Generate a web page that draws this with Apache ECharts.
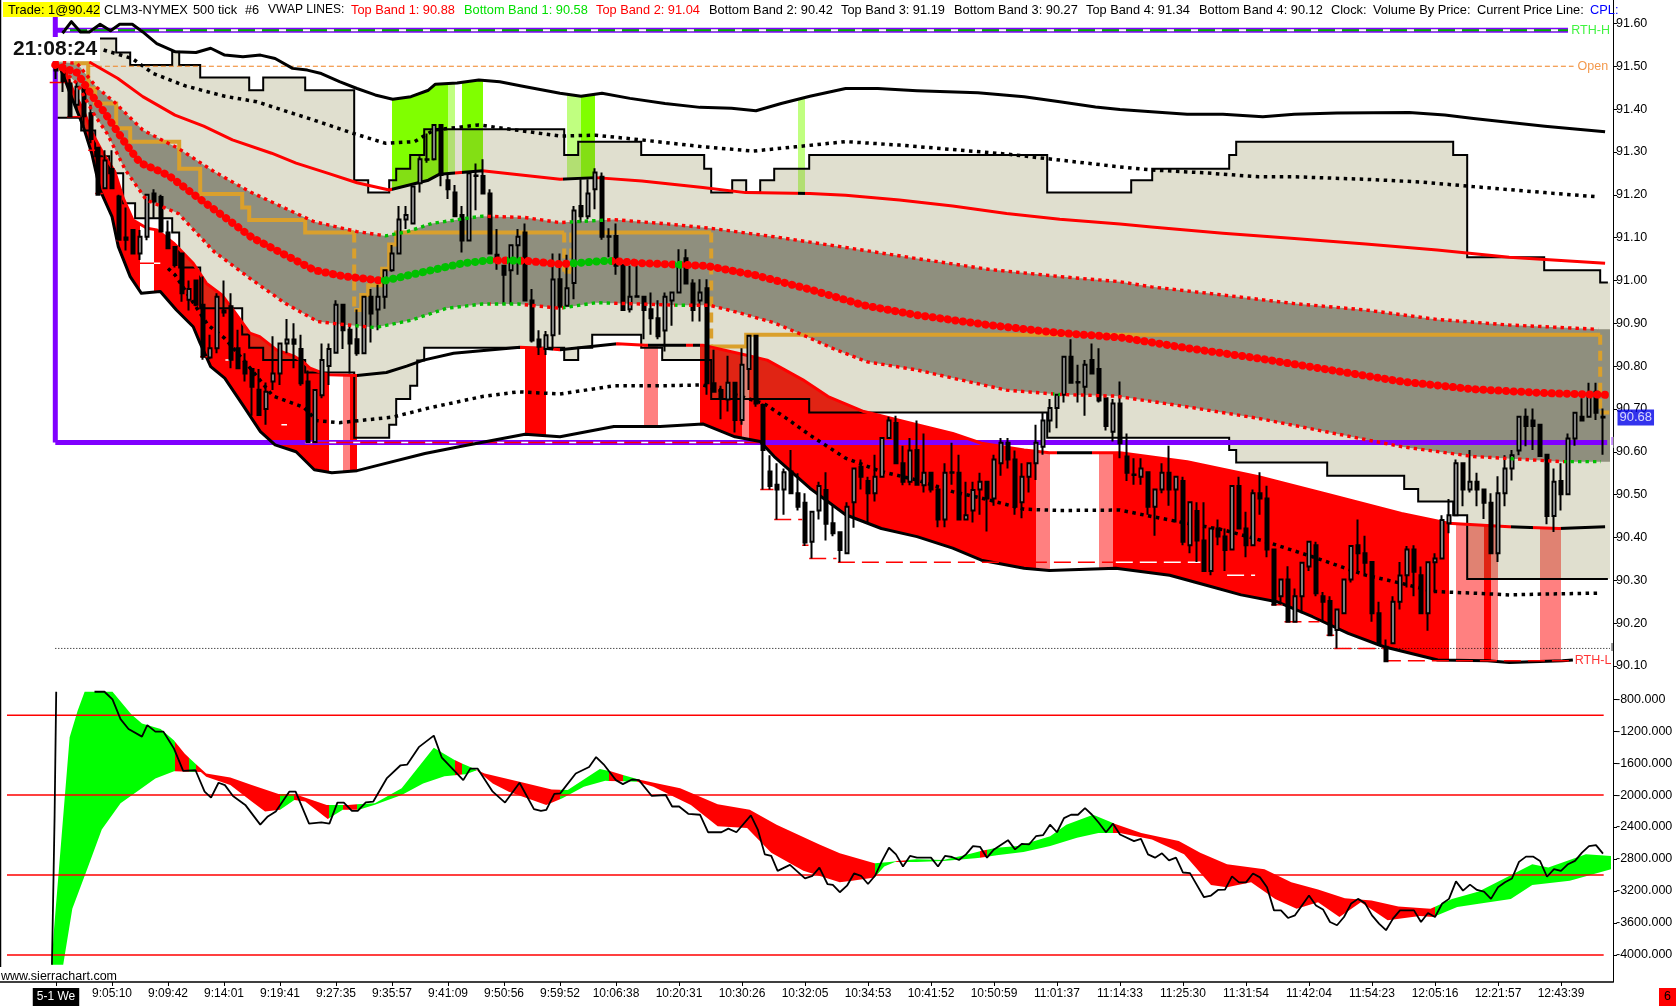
<!DOCTYPE html>
<html><head><meta charset="utf-8">
<style>html,body{margin:0;padding:0;background:#fff}#c{width:1676px;height:1006px}</style>
<script src="https://cdn.jsdelivr.net/npm/echarts@6/dist/echarts.min.js"></script>
</head><body><div id="c"></div>
<script>
// ---------- axis values ----------
const tickBars=[0,8,16,24,32,40,48,56,64,72,80,89,98,107,116,125,134,143,152,161,170,179,188,197,206,215];
const tickLabels=['5-1 We','9:05:10','9:09:42','9:14:01','9:19:41','9:27:35','9:35:57','9:41:09','9:50:56','9:59:52','10:06:38','10:20:31','10:30:26','10:32:05','10:34:53','10:41:52','10:50:59','11:01:37','11:14:33','11:25:30','11:31:54','11:42:04','11:54:23','12:05:16','12:21:57','12:43:39'];
const priceTicks=[90.1,90.2,90.3,90.4,90.5,90.6,90.7,90.8,90.9,91.0,91.1,91.2,91.3,91.4,91.5,91.6];
const deltaTicks=[-800,-1200,-1600,-2000,-2400,-2800,-3200,-3600,-4000];
const deltaLevels=[-1000,-2000,-3000,-4000];
// ---------- candles: one row per bar, [open, close, low, high] ----------
const candles=[
[91.50,91.49,91.47,91.52],[91.49,91.465,91.44,91.50],[91.46,91.383,91.383,91.47],[91.41,91.452,91.40,91.464],[91.45,91.383,91.36,91.46],
[91.39,91.33,91.32,91.41],[91.31,91.20,91.20,91.31],[91.215,91.28,91.215,91.304],[91.26,91.215,91.215,91.304],[91.196,91.095,91.095,91.2],
[91.10,91.095,91.07,91.17],[91.118,91.063,91.063,91.12],[91.063,91.102,91.048,91.118],[91.102,91.2,91.094,91.2],[91.203,91.184,91.145,91.213],
[91.195,91.114,91.114,91.2],[91.112,91.075,91.073,91.14],[91.078,91.036,91.03,91.08],[91.063,90.97,90.95,91.063],[90.955,90.98,90.93,91.0],
[91.0,90.943,90.94,91.0],[90.943,90.822,90.815,91.009],[90.82,90.842,90.816,90.873],[90.842,90.962,90.83,90.97],[90.93,90.925,90.915,91.0],
[90.94,90.815,90.795,90.97],[90.842,90.795,90.795,90.885],[90.81,90.783,90.764,90.83],[90.793,90.752,90.684,90.793],[90.745,90.686,90.684,90.793],
[90.70,90.74,90.663,90.762],[90.764,90.783,90.744,90.87],[90.783,90.853,90.756,90.853],[90.853,90.862,90.83,90.91],[90.862,90.852,90.795,90.90],
[90.84,90.76,90.754,90.873],[90.764,90.623,90.623,90.79],[90.623,90.744,90.623,90.745],[90.732,90.814,90.725,90.853],[90.80,90.84,90.756,90.853],
[90.831,90.943,90.831,90.954],[90.943,90.884,90.84,90.943],[90.885,90.853,90.783,90.896],[90.863,90.83,90.824,90.932],[90.83,90.962,90.83,90.962],
[90.962,90.923,90.855,90.98],[90.932,90.962,90.884,90.99],[90.962,91.024,90.934,91.024],[91.024,91.063,91.02,91.083],[91.063,91.142,91.063,91.174],
[91.142,91.153,91.12,91.174],[91.133,91.219,91.133,91.22],[91.227,91.283,91.205,91.29],[91.282,91.283,91.275,91.343],[91.283,91.363,91.28,91.365],
[91.363,91.246,91.22,91.365],[91.234,91.213,91.19,91.246],[91.205,91.15,91.15,91.223],[91.153,91.093,91.065,91.174],[91.093,91.25,91.093,91.25],
[91.244,91.245,91.164,91.273],[91.244,91.203,91.203,91.283],[91.203,91.063,91.063,91.213],[91.06,91.045,91.025,91.12],[91.034,91.013,90.943,91.034],
[91.024,91.082,90.943,91.082],[91.082,91.102,91.013,91.12],[91.112,90.953,90.953,91.133],[90.953,90.86,90.855,90.98],[90.862,90.845,90.826,90.884],
[90.84,90.872,90.826,90.882],[90.872,91.002,90.84,91.063],[91.003,90.939,90.873,91.063],[90.941,90.982,90.94,91.06],[90.994,91.163,90.956,91.174],
[91.174,91.15,91.135,91.236],[91.15,91.203,91.143,91.236],[91.213,91.252,91.166,91.262],[91.242,91.102,91.095,91.252],[91.102,91.103,91.054,91.122],
[91.104,91.034,91.013,91.133],[91.036,90.931,90.931,91.036],[90.933,90.962,90.925,91.034],[90.962,90.963,90.962,91.034],[90.962,90.931,90.863,90.962],
[90.933,90.912,90.873,90.972],[90.912,90.87,90.863,90.954],[90.883,90.962,90.834,90.972],[90.953,90.972,90.894,90.972],[90.972,91.036,90.972,91.073],
[91.052,90.993,90.993,91.073],[90.993,90.931,90.904,91.003],[90.953,90.972,90.904,91.003],[90.982,90.76,90.733,91.003],[90.76,90.74,90.74,90.838],
[90.744,90.725,90.676,90.754],[90.722,90.761,90.694,90.824],[90.761,90.674,90.645,90.761],[90.674,90.803,90.663,90.842],[90.793,90.871,90.744,90.871],
[90.871,90.713,90.705,90.871],[90.709,90.604,90.512,90.713],[90.554,90.52,90.512,90.592],[90.523,90.512,90.442,90.573],[90.512,90.552,90.453,90.561],
[90.554,90.503,90.503,90.604],[90.503,90.472,90.463,90.55],[90.481,90.388,90.38,90.503],[90.39,90.46,90.351,90.46],[90.463,90.52,90.442,90.53],
[90.511,90.432,90.393,90.552],[90.433,90.41,90.403,90.476],[90.412,90.371,90.342,90.412],[90.363,90.472,90.363,90.482],[90.482,90.561,90.423,90.561],
[90.565,90.542,90.512,90.582],[90.532,90.503,90.432,90.542],[90.503,90.542,90.484,90.593],[90.542,90.632,90.542,90.632],[90.632,90.673,90.632,90.682],
[90.667,90.573,90.573,90.684],[90.573,90.53,90.522,90.614],[90.53,90.603,90.522,90.632],[90.604,90.523,90.523,90.673],[90.522,90.551,90.505,90.643],
[90.551,90.512,90.505,90.551],[90.512,90.442,90.424,90.523],[90.442,90.551,90.424,90.573],[90.551,90.552,90.523,90.621],[90.551,90.442,90.442,90.593],
[90.442,90.452,90.442,90.53],[90.463,90.511,90.435,90.53],[90.512,90.53,90.453,90.551],[90.53,90.491,90.414,90.53],[90.491,90.582,90.474,90.593],
[90.573,90.621,90.544,90.632],[90.621,90.582,90.561,90.632],[90.582,90.472,90.453,90.603],[90.482,90.542,90.445,90.573],[90.542,90.573,90.505,90.573],
[90.573,90.621,90.534,90.663],[90.612,90.673,90.593,90.693],[90.673,90.702,90.645,90.723],[90.702,90.733,90.655,90.733],[90.733,90.822,90.715,90.822],
[90.822,90.761,90.761,90.863],[90.762,90.763,90.715,90.803],[90.752,90.803,90.684,90.814],[90.814,90.783,90.783,90.853],[90.793,90.72,90.715,90.842],
[90.725,90.66,90.65,90.725],[90.647,90.713,90.624,90.723],[90.713,90.62,90.585,90.764],[90.589,90.551,90.532,90.643],[90.546,90.547,90.523,90.585],
[90.542,90.561,90.523,90.585],[90.552,90.472,90.453,90.552],[90.472,90.512,90.404,90.512],[90.512,90.551,90.503,90.573],[90.551,90.512,90.474,90.614],
[90.512,90.542,90.435,90.542],[90.532,90.39,90.382,90.542],[90.382,90.482,90.363,90.482],[90.462,90.393,90.343,90.482],[90.393,90.322,90.322,90.482],
[90.322,90.421,90.312,90.421],[90.421,90.402,90.382,90.442],[90.402,90.371,90.322,90.421],[90.372,90.52,90.372,90.52],[90.52,90.421,90.421,90.542],
[90.421,90.382,90.354,90.46],[90.382,90.503,90.382,90.512],[90.503,90.491,90.453,90.552],[90.491,90.372,90.354,90.521],[90.372,90.243,90.243,90.372],
[90.263,90.302,90.243,90.302],[90.302,90.203,90.203,90.333],[90.203,90.263,90.203,90.281],[90.263,90.341,90.223,90.341],[90.332,90.39,90.322,90.39],
[90.382,90.27,90.263,90.39],[90.263,90.25,90.203,90.273],[90.252,90.172,90.172,90.263],[90.184,90.232,90.141,90.232],[90.223,90.302,90.223,90.302],
[90.302,90.38,90.295,90.38],[90.382,90.363,90.322,90.442],[90.363,90.341,90.312,90.404],[90.343,90.223,90.203,90.343],[90.223,90.153,90.153,90.25],
[90.145,90.111,90.111,90.162],[90.153,90.25,90.153,90.263],[90.25,90.311,90.232,90.343],[90.312,90.372,90.283,90.38],[90.372,90.32,90.263,90.382],
[90.312,90.223,90.223,90.332],[90.223,90.342,90.182,90.342],[90.342,90.351,90.273,90.363],[90.351,90.441,90.351,90.452],[90.433,90.452,90.41,90.49],
[90.452,90.573,90.452,90.582],[90.573,90.512,90.473,90.573],[90.512,90.53,90.505,90.604],[90.53,90.512,90.473,90.551],[90.512,90.481,90.443,90.512],
[90.481,90.363,90.363,90.503],[90.363,90.503,90.343,90.543],[90.503,90.561,90.473,90.592],[90.561,90.592,90.533,90.604],[90.603,90.682,90.592,90.682],
[90.682,90.66,90.613,90.701],[90.673,90.66,90.604,90.701],[90.663,90.59,90.59,90.663],[90.593,90.45,90.431,90.593],[90.45,90.53,90.413,90.561],
[90.532,90.501,90.463,90.573],[90.501,90.631,90.501,90.643],[90.631,90.691,90.614,90.691],[90.682,90.673,90.673,90.725],[90.682,90.736,90.682,90.761],
[90.74,90.691,90.674,90.761],[90.682,90.68,90.593,90.701]];
// ---------- VWAP bands, each a list of [bar, price] readings ----------
const topBand4=[[0.93,91.577],[2.2,91.604],[3.5,91.58],[4.76,91.58],[6.3,91.598],[7.8,91.583],[9.1,91.598],[10.9,91.598],[12.4,91.58],[14.4,91.553],[17,91.534],[20,91.532],[22.1,91.542],[24.1,91.526],[26.7,91.522],[29.2,91.526],[31.3,91.518],[33.8,91.495],[35.9,91.491],[37.9,91.483],[40.5,91.464],[43,91.448],[45.6,91.433],[48.1,91.423],[50.7,91.429],[53.2,91.444],[54.2,91.458],[57.3,91.461],[60.4,91.468],[63.4,91.464],[66.5,91.454],[72,91.437],[75,91.43],[78,91.437],[82,91.425],[87,91.413],[92,91.404],[96.5,91.402],[100,91.396],[103.6,91.413],[107.7,91.43],[112.8,91.448],[117.4,91.448],[123,91.443],[131.7,91.438],[138.3,91.429],[143.4,91.417],[148.5,91.405],[152,91.399],[156.5,91.394],[161.6,91.388],[166.7,91.388],[172.4,91.382],[176.9,91.388],[183,91.391],[193.3,91.392],[198.4,91.386],[202.5,91.378],[212.7,91.36],[221.3,91.347]];
const topBand3=[[6.8,91.538],[10.9,91.518],[13.9,91.483],[18.5,91.454],[24.1,91.43],[28.7,91.417],[32.3,91.398],[36.9,91.374],[42.5,91.343],[47.1,91.32],[51.2,91.324],[54,91.351],[60.4,91.363],[72,91.337],[77.1,91.339],[83.7,91.328],[92.4,91.312],[99.6,91.302],[105.7,91.312],[112.8,91.324],[120.5,91.316],[135.8,91.295],[143.4,91.281],[152,91.265],[156.5,91.258],[164.2,91.251],[171.8,91.242],[176.9,91.242],[187.1,91.236],[194.8,91.23],[202.5,91.219],[212.7,91.205],[220.3,91.195]];
const topBand2=[[4.76,91.51],[8.8,91.472],[12.4,91.429],[17,91.386],[21.1,91.36],[25.2,91.328],[30.8,91.297],[34.3,91.274],[38.9,91.25],[43,91.228],[47.6,91.211],[53.2,91.234],[54.8,91.248],[60.9,91.256],[72,91.236],[77.1,91.24],[83.7,91.232],[92.4,91.217],[98.5,91.205],[107.7,91.203],[112.8,91.199],[120.5,91.188],[128.1,91.174],[135.8,91.156],[143.4,91.143],[152,91.132],[156.5,91.125],[166.7,91.11],[176.9,91.098],[187.1,91.085],[197.3,91.071],[207.6,91.054],[221.3,91.04]];
const topBand1=[[-0.1,91.51],[3,91.507],[5.8,91.451],[8.3,91.417],[12.4,91.351],[17.5,91.308],[22.6,91.254],[27.7,91.207],[32.8,91.168],[36.9,91.137],[43,91.114],[47.1,91.104],[50.2,91.114],[53.7,91.133],[57.8,91.143],[60.9,91.15],[67,91.147],[72,91.135],[79.7,91.142],[87.3,91.132],[93.9,91.121],[102.6,91.102],[112.8,91.077],[123,91.051],[133.2,91.026],[143.4,91.009],[152,90.997],[156.5,90.985],[166.7,90.966],[176.9,90.946],[187.1,90.931],[197.3,90.909],[207.6,90.896],[220.3,90.886]];
const vwapCenter=[[-0.1,91.503],[3,91.485],[5,91.435],[7.1,91.388],[10,91.318],[12,91.275],[16,91.246],[19.9,91.198],[24,91.149],[28,91.1],[32.8,91.059],[36.9,91.024],[41,91.01],[46.8,90.999],[52,91.018],[58.1,91.04],[61.9,91.047],[67,91.046],[72,91.038],[78.9,91.046],[84,91.04],[92.9,91.034],[100,91.012],[107.7,90.979],[115.4,90.942],[123,90.919],[133.2,90.896],[143,90.878],[152,90.867],[161.6,90.842],[171.8,90.818],[182,90.791],[192.2,90.764],[202.5,90.746],[212.7,90.737],[221.3,90.733]];
const bottomBand1=[[1,91.49],[3,91.46],[5.5,91.386],[7.3,91.343],[9.9,91.258],[12.9,91.188],[17.5,91.156],[22.6,91.067],[27.7,91.005],[32.8,90.946],[37.4,90.904],[40.5,90.898],[45.6,90.89],[50.7,90.907],[55.8,90.935],[60.9,90.945],[66,90.945],[72,90.935],[77.1,90.948],[83.7,90.945],[88.8,90.942],[93.4,90.942],[97.5,90.925],[102.6,90.901],[107.2,90.869],[111.3,90.839],[115.9,90.81],[123,90.791],[128.1,90.772],[135.8,90.744],[143.2,90.734],[151.4,90.73],[161.6,90.705],[171.8,90.678],[182,90.645],[192.2,90.612],[202.5,90.589],[215.2,90.577],[220.7,90.577]];
const bottomBand2=[[0,91.505],[1.3,91.491],[2.5,91.441],[3.9,91.398],[5.3,91.34],[7,91.289],[8.4,91.254],[9.6,91.192],[11,91.141],[13,91.122],[14.4,91.118],[16.8,91.087],[19.6,91.04],[21.5,90.993],[23.7,90.966],[25.3,90.931],[27.7,90.877],[29.1,90.869],[31.5,90.838],[33.9,90.824],[35.3,90.81],[36.3,90.795],[38.2,90.783],[39.1,90.78],[43,90.778],[47.2,90.785],[50.1,90.8],[52.5,90.814],[56.8,90.83],[61.5,90.837],[66.3,90.844],[70.1,90.841],[72,90.838],[80.2,90.852],[84.2,90.849],[88.8,90.849],[92.4,90.849],[98.5,90.826],[101.6,90.814],[106.7,90.768],[110.3,90.729],[115.4,90.694],[123,90.663],[128.1,90.643],[132.2,90.62],[138.3,90.604],[141.9,90.598],[152,90.598],[161.6,90.577],[171.8,90.542],[182,90.499],[192.2,90.456],[198.9,90.433],[207.6,90.425],[214.7,90.421],[221.3,90.425]];
const bottomBand3=[[16,91.028],[17,91.013],[21.7,90.896],[24.1,90.865],[27,90.81],[31,90.73],[35.4,90.704],[37.2,90.673],[40.5,90.668],[48.1,90.681],[53.2,90.702],[60.9,90.729],[66,90.74],[72,90.735],[79.7,90.754],[86.3,90.754],[92.4,90.756],[101.1,90.713],[104.1,90.681],[107.7,90.639],[112.8,90.585],[117.9,90.554],[123,90.534],[128.1,90.507],[133.2,90.488],[138.3,90.466],[143.4,90.463],[152,90.464],[156.5,90.449],[161.6,90.433],[166.7,90.418],[172.9,90.39],[179.5,90.355],[187.1,90.312],[192.2,90.293],[196.8,90.274],[202.5,90.27],[207.6,90.266],[212.7,90.268],[220.3,90.27]];
const bottomBand4=[[0.5,91.50],[1.3,91.468],[2,91.437],[3.9,91.359],[5.1,91.297],[6.3,91.211],[8,91.149],[8.9,91.079],[10.6,91.009],[12.2,90.97],[14.9,90.974],[17.2,90.931],[19.6,90.892],[20.6,90.853],[22.1,90.799],[24.1,90.772],[26.7,90.709],[29.2,90.647],[31.3,90.616],[34.3,90.6],[36.9,90.558],[39.4,90.551],[43,90.556],[46.1,90.569],[52.7,90.596],[58.3,90.614],[67,90.641],[72,90.635],[79.7,90.659],[86.3,90.659],[92.4,90.665],[97,90.635],[100.6,90.624],[102.6,90.589],[107.7,90.515],[112.8,90.453],[117.9,90.421],[123,90.402],[128.1,90.375],[132.2,90.347],[138.3,90.328],[141.9,90.323],[151.4,90.328],[159.1,90.312],[164.2,90.289],[169.3,90.266],[174.4,90.25],[179.5,90.215],[184.6,90.176],[189.7,90.145],[197.4,90.114],[204.5,90.112],[207.6,90.108],[215.2,90.112],[216.7,90.114]];
// ---------- volume-by-price steps and POC, [bar where the level starts, price] ----------
const vbpUpper=[[-0.4,91.565],[8.6,91.532],[10.6,91.503],[16.6,91.534],[17.6,91.503],[20.6,91.474],[27.6,91.444],[29.6,91.474],[35.6,91.444],[42.6,91.234],[44.6,91.205],[47.6,91.234],[48.6,91.261],[50.6,91.293],[52.6,91.353],[72.6,91.293],[74.6,91.324],[83.6,91.293],[92.6,91.261],[93.6,91.205],[96.6,91.234],[98.6,91.205],[100.6,91.234],[102.6,91.261],[107.6,91.293],[141.6,91.205],[153.6,91.234],[156.6,91.261],[167.6,91.293],[168.6,91.324],[199.6,91.293],[201.6,91.054],[212.6,91.024],[220.6,90.995],[221.7,90.995]];
const vbpLower=[[-0.4,91.38],[3.6,91.35],[5.6,91.29],[7.6,91.25],[9.6,91.18],[11.3,91.145],[16.6,91.112],[17.6,91.03],[20.6,90.935],[26.6,90.874],[27.6,90.843],[29.6,90.814],[35.6,90.785],[42.6,90.633],[47.6,90.663],[48.6,90.723],[50.6,90.754],[51.6,90.813],[52.6,90.843],[72.6,90.814],[74.6,90.843],[76.6,90.873],[83.6,90.843],[86.6,90.814],[93.6,90.723],[107.6,90.692],[141.6,90.633],[167.6,90.604],[168.6,90.575],[181.6,90.544],[192.6,90.513],[194.6,90.484],[199.6,90.452],[201.6,90.303],[221.7,90.303]];
const pocLine=[[2.6,91.507],[4.6,91.448],[5.6,91.413],[8.6,91.355],[10.6,91.324],[17.6,91.261],[20.6,91.202],[26.6,91.17],[27.6,91.141],[35.6,91.112],[42.6,91.112],[42.6,null],[42.6,90.931],[43.6,90.966],[44.6,90.989],[46.6,91.027],[47.6,91.084],[48.6,91.112],[72.6,91.112],[72.6,null],[72.6,91.02],[73.6,91.02],[73.6,null],[73.6,91.112],[93.6,91.112],[93.6,null],[93.6,90.846],[98.6,90.873],[220.6,90.873],[220.6,null],[220.6,90.692],[221.9,90.692]];
const pocDrops=[[[42.6,91.112],[42.6,90.931]],[[72.6,91.112],[72.6,91.02]],[[73.6,91.112],[73.6,91.02]],[[93.6,91.112],[93.6,90.846]],[[220.6,90.873],[220.6,90.692]]];
// ---------- coloured bar ranges [from bar, to bar] ----------
const redBars=[[1,12],[14,39],[42,43],[67,70],[92,98],[99,140],[151,199],[204,205]];
const pinkBars=[[41,42],[84,86],[98,99],[140,142],[149,151],[200,204],[205,206],[212,215]];
const greenBars=[[48,56],[58,61],[75,77]];
const paleGreenBars=[[56,57],[73,75],[106,107]];
// ---------- where the bands change colour ----------
const centerGreen=[[46.5,62.5],[64.5,66.5],[73.5,79.5],[88.5,89.5]];
const upperGreen=[[46.5,61.2],[73.5,78.5]];
const lowerGreen=[[42.5,43.5],[44.5,62],[62.5,66.5],[72.5,79.5],[88.5,90.5],[142.5,143.5],[207.5,208.5],[215.5,220.8]];
const band2BottomBlack=[[43,66.3],[70,71],[72,80],[84.6,90],[91,92],[143,148],[207.8,211],[215,221.5]];
const band2TopBlack=[[48,57],[58,61],[72.5,77],[106,107]];
// ---------- swing-low marks [from bar, to bar, price] ----------
const lowMarksRed=[[-0.9,1.3,91.462],[1.6,3.5,91.382],[4.6,5.6,91.304],[5.6,6.7,91.203],[8.6,9.4,91.093],[11.9,14,91.04],[20.6,21.7,90.822],[100.6,102.5,90.512],[102.6,106.6,90.442],[106.6,107.5,90.382],[107.6,111.5,90.351],[111.7,151,90.342],[173.6,175.2,90.243],[175.5,180.5,90.203],[181.5,182.6,90.172],[182.6,189.7,90.141],[189.7,216.7,90.112]];
const lowMarksWhite=[[14,14.9,91.04],[24.2,25,90.814],[32.2,33,90.663],[151.4,163.5,90.342],[167.3,171.3,90.312]];
// ---------- fixed price lines ----------
const rthHigh=91.584, rthLow=90.622, openPrice=91.5, dottedLow=90.141, lastPrice=90.68;
// ---------- lower pane: the two edges of the ribbon and the oscillator, [bar, value] ----------
const ribbonTop=[[-0.6,-4124],[-0.35,-3753],[0.8,-2515],[1.95,-1277],[3.09,-946],[4.09,-707],[8.07,-707],[10.75,-988],[12.28,-1103],[14.95,-1173],[16.87,-1318],[18.4,-1483],[19.93,-1607],[21.46,-1730],[24.9,-1780],[27.96,-1875],[31.79,-1986],[34.08,-1986],[38.67,-2123],[41.73,-2123],[45.56,-2102],[49.38,-1916],[53.97,-1409],[57.03,-1565],[59.33,-1656],[61.24,-1730],[66.22,-1834],[70.81,-1929],[73.1,-1937],[77.69,-1673],[79.22,-1702],[83.05,-1801],[89.17,-1916],[94.52,-2114],[99.11,-2184],[102.94,-2370],[109.06,-2618],[111.97,-2729],[116.94,-2853],[119.08,-2836],[122.91,-2803],[126.73,-2812],[129.79,-2754],[132.09,-2700],[134.38,-2659],[137.44,-2638],[142.03,-2515],[144.33,-2370],[148.16,-2246],[151.22,-2358],[155.04,-2473],[160.4,-2576],[163.46,-2721],[167.29,-2865],[172.64,-2927],[176.47,-3092],[180.29,-3183],[184.12,-3290],[187.94,-3319],[191.77,-3394],[196.36,-3423],[199.42,-3299],[203.25,-3208],[210.9,-2865],[213.19,-2907],[218.55,-2742],[222.14,-2762]];
const ribbonBottom=[[1.03,-4124],[2.33,-3423],[4.62,-2886],[6.54,-2432],[9.22,-2102],[11.89,-1937],[14.19,-1792],[16.87,-1702],[20.69,-1710],[21.46,-1772],[24.9,-1875],[27.96,-2081],[29.87,-2205],[32.02,-2184],[34.08,-2061],[35.6,-2081],[38.82,-2300],[40.97,-2184],[43.26,-2184],[45.56,-2122],[49.38,-1999],[52.44,-1854],[55.5,-1763],[58.57,-1739],[60.1,-1689],[62.39,-1854],[64.69,-1957],[70.04,-2123],[72.34,-2040],[75.4,-1896],[78.46,-1821],[83.05,-1834],[85.34,-1896],[90.7,-2123],[94.52,-2391],[98.73,-2411],[102.18,-2721],[106.77,-2948],[111.97,-3092],[113.73,-3072],[116.94,-3030],[118.32,-2894],[119.85,-2836],[122.91,-2836],[126.73,-2824],[131.32,-2791],[134.38,-2754],[138.21,-2713],[142.03,-2638],[145.86,-2535],[148.92,-2473],[151.98,-2473],[156.57,-2556],[161.16,-2742],[165,-3125],[167.29,-3154],[170.73,-3092],[174.17,-3299],[177.23,-3423],[180.29,-3340],[183.35,-3526],[186.41,-3340],[190.24,-3567],[194.83,-3513],[196.74,-3526],[200.18,-3402],[203.25,-3361],[207.83,-3299],[210.9,-3125],[216.25,-3072],[222.14,-2927]];
const ribbonGreen=[[-1,17],[19,20],[32,34],[39,41],[43,57],[58,60],[72,79],[81,83],[117,120],[121.4,132],[133,151],[197,223]];
const ribbonRed=[[17,19],[20,32],[34,39],[41,43],[57,58],[60,72],[79,81],[83,117],[120,121.4],[132,133],[151,197]];
const oscillator=[[-0.58,-4124],[-0.35,-3010],[-0.2,-2260],[0.03,-707],[0.03,null],[5.5,-707],[6.92,-707],[8.07,-802],[9.22,-1050],[10.36,-1173],[12.28,-1268],[13.04,-1124],[14.19,-1206],[15.34,-1206],[16.87,-1421],[18.17,-1697],[19.93,-1689],[21.23,-1957],[22.15,-2032],[23.22,-1846],[24.13,-1875],[25.28,-2011],[27.04,-2123],[29.18,-2370],[30.26,-2267],[31.4,-2205],[33.32,-1957],[34.23,-1957],[36.15,-2358],[37.91,-2341],[39.06,-2358],[40.2,-2094],[41.12,-2094],[42.27,-2197],[43.11,-2197],[44.26,-2090],[45.33,-2081],[47.24,-1792],[49.23,-1627],[50.15,-1619],[51.83,-1400],[53.97,-1256],[55.12,-1532],[58.18,-1813],[59.18,-1669],[60.25,-1669],[62.39,-1957],[64.15,-2094],[66.22,-1846],[68.28,-2176],[69.28,-2197],[70.04,-2184],[71.19,-1986],[72.03,-1978],[74.25,-1730],[76.16,-1648],[77.16,-1524],[78.23,-1615],[79.99,-1813],[80.98,-1863],[82.28,-1805],[83.28,-1813],[85.11,-2011],[87.1,-1999],[88.02,-2143],[89.02,-2143],[90.32,-2234],[92,-2246],[93.15,-2465],[95.06,-2465],[96.05,-2420],[97.2,-2465],[99.27,-2255],[100.26,-2432],[101.26,-2742],[102.18,-2762],[103.09,-2948],[104.85,-2874],[107,-3043],[108.07,-3010],[109.06,-2907],[110.21,-3113],[110.98,-3125],[111.97,-3216],
[112,-3241],[113,-3134],[114,-2981],[115,-3010],[116,-3113],[117,-3010],[118,-2824],[119,-2659],[120,-2742],[121,-2894],[122,-2762],[123,-2783],[124,-2783],[125,-2783],[126,-2894],[127,-2762],[128,-2775],[129,-2812],[130,-2742],[131,-2638],[132,-2647],[133,-2783],[134,-2680],[136,-2564],[137,-2680],[138,-2610],[139,-2618],[140,-2515],[141,-2502],[142,-2370],[143,-2465],[144,-2288],[145,-2246],[146,-2246],[147,-2164],[148,-2246],[149,-2349],[150,-2465],[151,-2358],[152,-2494],[154,-2576],[155,-2548],[156,-2742],[157,-2783],[158,-2729],[159,-2816],[160,-2783],[161,-2969],[162,-2977],[164,-3278],[165,-3257],[166,-3187],[167,-3183],[168,-3018],[169,-3092],[170,-3092],[171,-2981],[172,-3030],[173,-3154],[174,-3443],[175,-3443],[176,-3538],[177,-3505],[179,-3257],[180,-3381],[181,-3431],[182,-3588],[183,-3629],[184,-3526],[185,-3361],[186,-3299],[187,-3352],[188,-3505],[189,-3608],[190,-3691],[191,-3546],[192,-3443],[194,-3443],[195,-3588],[196,-3476],[197,-3526],[198,-3361],[199,-3299],[200,-3080],[201,-3196],[202,-3121],[203,-3187],[204,-3208],[205,-3299],[206,-3154],[207,-3092],[208,-3043],[209,-2836],[210,-2770],[211,-2770],[212,-2824],[213,-3022],[214,-2927],[215,-2948],[216,-2865],[217,-2824],[218,-2721],[219,-2638],[220,-2626],[221,-2733]];
// ---------- header ----------
const headerTexts=['Trade: 1@90.42','CLM3-NYMEX','500 tick','#6','VWAP LINES:','Top Band 1: 90.88','Bottom Band 1: 90.58','Top Band 2: 91.04','Bottom Band 2: 90.42','Top Band 3: 91.19','Bottom Band 3: 90.27','Top Band 4: 91.34','Bottom Band 4: 90.12','Clock:','Volume By Price:','Current Price Line:','CPL:'];
const headerX=[8,104,193,245,268,351,464,596,709,841,954,1086,1199,1331,1373,1477,1590];
const headerColors=['#000','#000','#000','#000','#000','#f00','#00e000','#f00','#000','#000','#000','#000','#000','#000','#000','#000','#0000ff'];

// ---------- drawing ----------
const FONT='Liberation Sans';
const BEIGE='rgba(139,135,75,0.267)', GRAY='#8f8f7e', GOLD='#daa02c', PURPLE='#8000ff', RED='#ff0000', BLACK='#000000';
const barMin=-8, barMax=222.43, bandEnd=222;
const series=[], visualMaps=[];
function add(s){series.push(Object.assign({animation:false,silent:true},s));return series.length-1;}
function line(name,data,color,width,z,extra){
  const ls=Object.assign({width,cap:'butt',join:'miter'},color?{color}:{},(extra&&extra.ls)||{});
  return add(Object.assign({name,type:'line',data,showSymbol:false,symbol:'none',xAxisIndex:0,yAxisIndex:0,z,lineStyle:ls},extra&&extra.s));
}
function recolor(idx,ranges,inColor,outColor){
  visualMaps.push({type:'piecewise',show:false,seriesIndex:idx,dimension:0,
    pieces:ranges.map(r=>({gt:r[0],lte:r[1],color:inColor})),outOfRange:{color:outColor}});
}
function breaks(marks){const out=[];marks.forEach(m=>{out.push([m[0],m[2]],[m[1],m[2]],[m[1],null]);});return out;}
function corners(steps){const out=[];steps.forEach((p,i)=>{if(i)out.push([p[0],steps[i-1][1]]);out.push(p);});return out;}
function bandSlices(name,ranges,upper,lower,fill,grid,z){
  add({name,type:'custom',xAxisIndex:grid,yAxisIndex:grid,z,data:ranges,
    renderItem(params,api){
      const a=api.coord([api.value(0),0])[0], b=api.coord([api.value(1),0])[0];
      const pts=upper.map(p=>api.coord(p)).concat(lower.slice().reverse().map(p=>api.coord(p)));
      return {type:'polygon',shape:{points:pts},style:{fill},
        clipPath:{type:'rect',shape:{x:a,y:0,width:b-a,height:1006}}};
    }});
}
bandSlices('red columns',redBars,bottomBand2,bottomBand4,RED,0,1);
bandSlices('pink columns',pinkBars,bottomBand2,bottomBand4,'#ff8080',0,1);
bandSlices('green columns',greenBars,topBand4,topBand2,'#80ff00',0,1);
bandSlices('pale columns',paleGreenBars,topBand4,topBand2,'#c0ff80',0,1);
add({name:'value area',type:'custom',xAxisIndex:0,yAxisIndex:0,z:2,data:[[0,0]],
  renderItem(params,api){
    const up=corners(vbpUpper), lo=corners(vbpLower);
    up.push([bandEnd,up[up.length-1][1]]); lo.push([bandEnd,lo[lo.length-1][1]]);
    const pts=up.map(p=>api.coord(p)).concat(lo.reverse().map(p=>api.coord(p)));
    return {type:'polygon',shape:{points:pts},style:{fill:BEIGE}};
  }});
add({name:'band 1',type:'custom',xAxisIndex:0,yAxisIndex:0,z:3,data:[[0,0]],
  renderItem(params,api){
    const up=topBand1.concat([[bandEnd,topBand1[topBand1.length-1][1]]]);
    const lo=bottomBand1.concat([[bandEnd,bottomBand1[bottomBand1.length-1][1]]]);
    const pts=up.map(p=>api.coord(p)).concat(lo.reverse().map(p=>api.coord(p)));
    return {type:'polygon',shape:{points:pts},style:{fill:GRAY}};
  }});
line('VbP upper',vbpUpper,BLACK,2,4,{s:{step:'end'}});
line('VbP lower',vbpLower,BLACK,2,4,{s:{step:'end'}});
line('POC',pocLine,GOLD,4,4,{s:{step:'end'}});
pocDrops.forEach((d,i)=>line('POC drop '+i,d,GOLD,4,4,{ls:{type:[10,6]}}));
line('left edge',[[-0.1,91.615],[-0.1,rthLow]],PURPLE,5,5);
line('RTH high',[[-0.1,rthHigh],[216,rthHigh]],PURPLE,5,5);
line('RTH high mid',[[1,rthHigh],[216,rthHigh]],'#00b000',2,5);
line('RTH high dash',[[1,rthHigh],[216,rthHigh]],'#ffffff',2,5,{ls:{type:[7,17]}});
line('RTH low',[[-0.1,rthLow],[221.6,rthLow]],PURPLE,5,5);
line('RTH low mid',[[35.6,rthLow],[100.6,rthLow]],RED,1.5,5);
line('RTH low dash',[[35.6,rthLow],[100.6,rthLow]],'#ffffff',1.5,5,{ls:{type:[7,17]}});
line('Open',[[4.7,openPrice],[216.8,openPrice]],'#f08020',1,5,{ls:{type:[5,3]}});
line('low dotted',[[-0.1,dottedLow],[222,dottedLow]],BLACK,1,5,{ls:{type:[1,2]}});
line('Top Band 4',topBand4,BLACK,3,6,{ls:{join:'round'}});
line('Bottom Band 4',bottomBand4,BLACK,3,6,{ls:{join:'round'}});
line('Top Band 3',topBand3,BLACK,3.5,6,{ls:{type:[3.5,4.5]}});
line('Bottom Band 3',bottomBand3,BLACK,3.5,6,{ls:{type:[3.5,4.5]}});
recolor(line('Top Band 2',topBand2,null,3,6,{ls:{join:'round'}}),band2TopBlack,BLACK,RED);
recolor(line('Bottom Band 2',bottomBand2,null,3,6,{ls:{join:'round'}}),band2BottomBlack,BLACK,RED);
line('low marks',breaks(lowMarksRed),RED,1.5,6,{ls:{type:[17,7]}});
line('low marks on red',breaks(lowMarksWhite),'#ffffff',1.5,6,{ls:{type:[17,7]}});
add({name:'Price',type:'candlestick',xAxisIndex:0,yAxisIndex:0,z:7,barWidth:4,
  encode:{x:0,y:[1,2,3,4]},
  data:candles.map((c,i)=>[i,c[0],c[1],c[2],c[3]]),
  itemStyle:{color:'#fff',color0:'#000',borderColor:'#000',borderColor0:'#000',borderWidth:2}});
recolor(line('Top Band 1',topBand1,null,3.4,8,{ls:{type:[3.4,4.1]}}),upperGreen,'#00c000',RED);
recolor(line('Bottom Band 1',bottomBand1,null,3.4,8,{ls:{type:[3.4,4.1]}}),lowerGreen,'#00c000',RED);
recolor(line('VWAP',vwapCenter,null,8,8,{ls:{type:[0.01,7.6],cap:'round'}}),centerGreen,'#00c000',RED);
function tag(name,x,y,color,size,extra){
  add({name,type:'scatter',xAxisIndex:0,yAxisIndex:0,z:9,symbolSize:1,itemStyle:{color:'rgba(0,0,0,0)'},data:[[x,y]],clip:false,
    label:Object.assign({show:true,position:'right',distance:0,formatter:name,color,fontFamily:FONT,fontSize:size},extra||{})});
}
tag('RTH-H',216.4,rthHigh,'#10f010',12.5);
tag('Open',217.3,openPrice,'#f08020',12.5);
tag('RTH-L',216.9,90.112,RED,12.5);
tag('I',222,dottedLow,BLACK,11);
tag('I',222,rthLow,PURPLE,11,{backgroundColor:'#fff'});
tag(lastPrice.toFixed(2),barMax,lastPrice,'#fff',13,{backgroundColor:'#0000e8',padding:[2,2,1,2],distance:4});
bandSlices('ribbon up',ribbonGreen,ribbonTop,ribbonBottom,'#00ff00',1,2);
bandSlices('ribbon down',ribbonRed,ribbonTop,ribbonBottom,RED,1,2);
deltaLevels.forEach(v=>add({name:'level '+v,type:'line',xAxisIndex:1,yAxisIndex:1,z:3,symbol:'none',showSymbol:false,
  data:[[-7,v],[221.1,v]],lineStyle:{color:RED,width:1.5}}));
add({name:'Oscillator',type:'line',xAxisIndex:1,yAxisIndex:1,z:4,symbol:'none',showSymbol:false,data:oscillator,
  lineStyle:{color:BLACK,width:1.8}});

const g=[
 {type:'rect',shape:{x:3,y:2,width:97,height:15},style:{fill:'#ffff00'},z:90},
 {type:'rect',shape:{x:3,y:37,width:97,height:24},style:{fill:'#ffffff'},z:90},
 {type:'text',x:13,y:49,style:{text:'21:08:24',fontFamily:FONT,fontWeight:'bold',fontSize:21,fill:'#111',textVerticalAlign:'middle'},z:91},
 {type:'text',x:1,y:977,style:{text:'www.sierrachart.com',fontFamily:FONT,fontSize:12.5,fill:'#000',textVerticalAlign:'middle'},z:91},
 {type:'line',shape:{x1:0.5,y1:0,x2:0.5,y2:967},style:{stroke:'#000',lineWidth:1.5},z:91},
 {type:'rect',shape:{x:1659,y:988,width:17,height:18},style:{fill:'#ff0000'},z:90},
 {type:'text',x:1667.5,y:997,style:{text:'6',fontFamily:FONT,fontSize:12.5,fill:'#000',textAlign:'center',textVerticalAlign:'middle'},z:91}
];
headerTexts.forEach((t,i)=>g.push({type:'text',x:headerX[i],y:10,z:91,
  style:{text:t,fontFamily:FONT,fontSize:t==='VWAP LINES:'?12:12.8,fill:headerColors[i],textVerticalAlign:'middle'}}));

const priceMin=91.6-(684-23.4)/428.4, priceMax=91.6+23.4/428.4;
const deltaScale=0.08044, deltaMax=-800+(699.3-684)/deltaScale, deltaMin=-800-(984-699.3)/deltaScale;
const labelOf=v=>tickLabels[tickBars.indexOf(v)];
const option={
  backgroundColor:'#fff',animation:false,
  grid:[{left:0,right:63,top:0,height:684},{left:0,right:63,top:684,height:300}],
  xAxis:[
   {type:'value',gridIndex:0,min:barMin,max:barMax,show:false,splitLine:{show:false}},
   {type:'value',gridIndex:1,min:barMin,max:barMax,splitLine:{show:false},
    axisLine:{show:true,lineStyle:{color:'#000',width:1.5}},
    axisTick:{show:true,length:4,lineStyle:{color:'#000'},customValues:tickBars},
    axisLabel:{show:true,customValues:tickBars,margin:6,fontFamily:FONT,fontSize:12,color:'#000',
      formatter:v=>{const s=labelOf(v);return v===0?'{tag|'+s+'}':s;},
      rich:{tag:{backgroundColor:'#000',color:'#fff',fontFamily:FONT,fontSize:12,padding:[3,4,3,4]}}}}
  ],
  yAxis:[
   {type:'value',gridIndex:0,position:'right',min:priceMin,max:priceMax,splitLine:{show:false},
    axisLine:{show:true,onZero:false,lineStyle:{color:'#000'}},
    axisTick:{show:true,length:4,lineStyle:{color:'#000'},customValues:priceTicks},
    axisLabel:{show:true,customValues:priceTicks,margin:3,fontFamily:FONT,fontSize:12.5,color:'#000',formatter:v=>v.toFixed(2)}},
   {type:'value',gridIndex:1,position:'right',min:deltaMin,max:deltaMax,splitLine:{show:false},
    axisLine:{show:true,onZero:false,lineStyle:{color:'#000'}},
    axisTick:{show:true,length:4,lineStyle:{color:'#000'},customValues:deltaTicks},
    axisLabel:{show:true,customValues:deltaTicks,margin:3,fontFamily:FONT,fontSize:12.5,color:'#000',formatter:v=>v.toFixed(3)}}
  ],
  visualMap:visualMaps,
  series,
  graphic:{elements:g}
};
echarts.init(document.getElementById('c'),null,{renderer:'canvas'}).setOption(option);
</script></body></html>
